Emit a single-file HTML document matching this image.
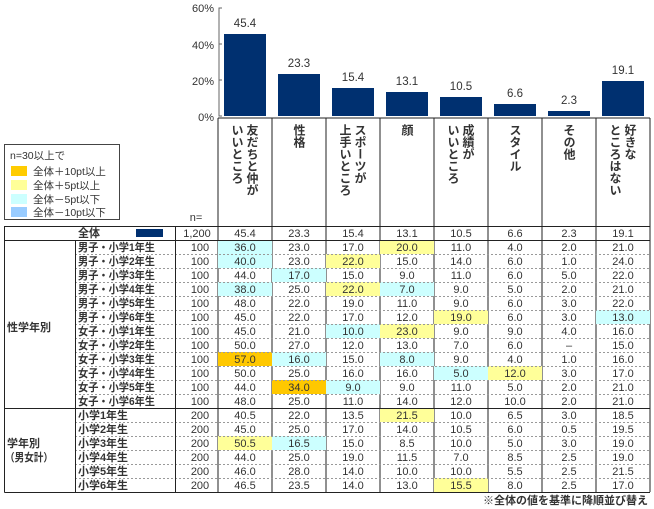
<!DOCTYPE html>
<html><head><meta charset="utf-8"><style>
html,body{margin:0;padding:0;background:#fff;}
svg{display:block;font-family:"Liberation Sans","Noto Sans CJK JP",sans-serif;}
.n{font-size:11px;fill:#333;text-anchor:middle;}
.l{font-size:11.5px;fill:#333;font-weight:bold;}
.v{font-size:12px;fill:#333;font-weight:bold;writing-mode:vertical-rl;}
.t{font-size:11px;fill:#333;text-anchor:end;}
</style></head><body>
<svg width="654" height="509" viewBox="0 0 654 509" xmlns="http://www.w3.org/2000/svg">
<text class="t" x="214" y="12">60%</text>
<text class="t" x="214" y="49">40%</text>
<text class="t" x="214" y="85">20%</text>
<text class="t" x="214" y="121">0%</text>
<path d="M222 8 H219 V116 H222 M219 44 H222 M219 80 H222" stroke="#666" fill="none"/>
<g fill="#003070">
<rect x="224" y="34" width="42" height="82"/>
<rect x="278" y="74" width="42" height="42"/>
<rect x="332" y="88" width="42" height="28"/>
<rect x="386" y="92" width="42" height="24"/>
<rect x="440" y="97" width="42" height="19"/>
<rect x="494" y="104" width="42" height="12"/>
<rect x="548" y="111" width="42" height="5"/>
<rect x="602" y="81" width="42" height="35"/>
</g>
<g class="n" style="font-size:11.5px">
<text x="245" y="27">45.4</text><text x="299" y="67">23.3</text><text x="353" y="81">15.4</text>
<text x="407" y="85">13.1</text><text x="461" y="90">10.5</text><text x="515" y="97">6.6</text>
<text x="569" y="104">2.3</text><text x="623" y="74">19.1</text>
</g>
<path d="M218 118 H650 M218 118 V492 M272 118 V492 M326 118 V492 M380 118 V492 M434 118 V492 M488 118 V492 M542 118 V492 M596 118 V492 M650 118 V492" stroke="#222" fill="none"/>
<text class="v" x="252" y="124">友だちと仲が</text><text class="v" x="237" y="124">いいところ</text>
<text class="v" x="299" y="124">性格</text>
<text class="v" x="360" y="124">スポーツが</text><text class="v" x="345" y="124">上手いところ</text>
<text class="v" x="407" y="124">顔</text>
<text class="v" x="468" y="124">成績が</text><text class="v" x="453" y="124">いいところ</text>
<text class="v" x="515" y="124">スタイル</text>
<text class="v" x="569" y="124">その他</text>
<text class="v" x="630" y="124">好きな</text><text class="v" x="615" y="124">ところはない</text>
<text x="196" y="221" class="n">n=</text>
<rect x="4.5" y="144.5" width="115" height="75" fill="#fff" stroke="#444"/>
<text x="10" y="159" style="font-size:10.5px;fill:#333">n=30以上で</text>
<rect x="11" y="166" width="16" height="10" fill="#FFCC00"/>
<rect x="11" y="180" width="16" height="10" fill="#FFFF99"/>
<rect x="11" y="194" width="16" height="10" fill="#CCFFFF"/>
<rect x="11" y="207" width="16" height="10" fill="#99CCFF"/>
<g style="font-size:10.5px;fill:#333">
<text x="33" y="175">全体＋10pt以上</text><text x="33" y="189">全体＋5pt以上</text>
<text x="33" y="203">全体－5pt以下</text><text x="33" y="216">全体－10pt以下</text>
</g>
<g>
<rect x="218" y="240" width="54" height="14" fill="#CCFFFF"/><rect x="380" y="240" width="54" height="14" fill="#FFFF99"/>
<rect x="218" y="254" width="54" height="14" fill="#CCFFFF"/><rect x="326" y="254" width="54" height="14" fill="#FFFF99"/>
<rect x="272" y="268" width="54" height="14" fill="#CCFFFF"/>
<rect x="218" y="282" width="54" height="14" fill="#CCFFFF"/><rect x="326" y="282" width="54" height="14" fill="#FFFF99"/><rect x="380" y="282" width="54" height="14" fill="#CCFFFF"/>
<rect x="434" y="310" width="54" height="14" fill="#FFFF99"/><rect x="596" y="310" width="54" height="14" fill="#CCFFFF"/>
<rect x="326" y="324" width="54" height="14" fill="#CCFFFF"/><rect x="380" y="324" width="54" height="14" fill="#FFFF99"/>
<rect x="218" y="352" width="54" height="14" fill="#FFC800"/><rect x="272" y="352" width="54" height="14" fill="#CCFFFF"/><rect x="380" y="352" width="54" height="14" fill="#CCFFFF"/>
<rect x="434" y="366" width="54" height="14" fill="#CCFFFF"/><rect x="488" y="366" width="54" height="14" fill="#FFFF99"/>
<rect x="272" y="380" width="54" height="14" fill="#FFC800"/><rect x="326" y="380" width="54" height="14" fill="#CCFFFF"/>
<rect x="380" y="408" width="54" height="14" fill="#FFFF99"/>
<rect x="218" y="436" width="54" height="14" fill="#FFFF99"/><rect x="272" y="436" width="54" height="14" fill="#CCFFFF"/>
<rect x="434" y="478" width="54" height="14" fill="#FFFF99"/>
</g>
<g stroke="#999" stroke-dasharray="2,2" fill="none">
<path d="M75 254.5H650M75 268.5H650M75 282.5H650M75 296.5H650M75 310.5H650M75 324.5H650M75 338.5H650M75 352.5H650M75 366.5H650M75 380.5H650M75 394.5H650M75 422.5H650M75 436.5H650M75 450.5H650M75 464.5H650M75 478.5H650"/>
</g>
<g stroke="#222" fill="none">
<path d="M4.5 226.5H650M4.5 240.5H650M4.5 408.5H650M4.5 492.5H650M4.5 226V492.5M75.5 240V492.5M175.5 226V492.5"/>
</g>
<rect x="136" y="229" width="27" height="8" fill="#003070"/>
<text class="l" x="78" y="237" textLength="22" lengthAdjust="spacingAndGlyphs">全体</text>
<g class="l" style="font-size:11px">
<text x="78" y="251" textLength="77" lengthAdjust="spacingAndGlyphs">男子・小学1年生</text><text x="78" y="265" textLength="77" lengthAdjust="spacingAndGlyphs">男子・小学2年生</text><text x="78" y="279" textLength="77" lengthAdjust="spacingAndGlyphs">男子・小学3年生</text>
<text x="78" y="293" textLength="77" lengthAdjust="spacingAndGlyphs">男子・小学4年生</text><text x="78" y="307" textLength="77" lengthAdjust="spacingAndGlyphs">男子・小学5年生</text><text x="78" y="321" textLength="77" lengthAdjust="spacingAndGlyphs">男子・小学6年生</text>
<text x="78" y="335" textLength="77" lengthAdjust="spacingAndGlyphs">女子・小学1年生</text><text x="78" y="349" textLength="77" lengthAdjust="spacingAndGlyphs">女子・小学2年生</text><text x="78" y="363" textLength="77" lengthAdjust="spacingAndGlyphs">女子・小学3年生</text>
<text x="78" y="377" textLength="77" lengthAdjust="spacingAndGlyphs">女子・小学4年生</text><text x="78" y="391" textLength="77" lengthAdjust="spacingAndGlyphs">女子・小学5年生</text><text x="78" y="405" textLength="77" lengthAdjust="spacingAndGlyphs">女子・小学6年生</text>
<text x="78" y="419" textLength="50" lengthAdjust="spacingAndGlyphs">小学1年生</text><text x="78" y="433" textLength="50" lengthAdjust="spacingAndGlyphs">小学2年生</text><text x="78" y="447" textLength="50" lengthAdjust="spacingAndGlyphs">小学3年生</text>
<text x="78" y="461" textLength="50" lengthAdjust="spacingAndGlyphs">小学4年生</text><text x="78" y="475" textLength="50" lengthAdjust="spacingAndGlyphs">小学5年生</text><text x="78" y="489" textLength="50" lengthAdjust="spacingAndGlyphs">小学6年生</text>
<text x="7" y="331" textLength="44" lengthAdjust="spacingAndGlyphs">性学年別</text>
<text x="7" y="447" textLength="33" lengthAdjust="spacingAndGlyphs">学年別</text><text x="5" y="461" textLength="48" lengthAdjust="spacingAndGlyphs">（男女計）</text>
</g>
<g class="n">
<text x="197" y="237">1,200</text><text x="245" y="237">45.4</text><text x="299" y="237">23.3</text><text x="353" y="237">15.4</text><text x="407" y="237">13.1</text><text x="461" y="237">10.5</text><text x="515" y="237">6.6</text><text x="569" y="237">2.3</text><text x="623" y="237">19.1</text>
<text x="200" y="251">100</text><text x="245" y="251">36.0</text><text x="299" y="251">23.0</text><text x="353" y="251">17.0</text><text x="407" y="251">20.0</text><text x="461" y="251">11.0</text><text x="515" y="251">4.0</text><text x="569" y="251">2.0</text><text x="623" y="251">21.0</text>
<text x="200" y="265">100</text><text x="245" y="265">40.0</text><text x="299" y="265">23.0</text><text x="353" y="265">22.0</text><text x="407" y="265">15.0</text><text x="461" y="265">14.0</text><text x="515" y="265">6.0</text><text x="569" y="265">1.0</text><text x="623" y="265">24.0</text>
<text x="200" y="279">100</text><text x="245" y="279">44.0</text><text x="299" y="279">17.0</text><text x="353" y="279">15.0</text><text x="407" y="279">9.0</text><text x="461" y="279">11.0</text><text x="515" y="279">6.0</text><text x="569" y="279">5.0</text><text x="623" y="279">22.0</text>
<text x="200" y="293">100</text><text x="245" y="293">38.0</text><text x="299" y="293">25.0</text><text x="353" y="293">22.0</text><text x="407" y="293">7.0</text><text x="461" y="293">9.0</text><text x="515" y="293">5.0</text><text x="569" y="293">2.0</text><text x="623" y="293">21.0</text>
<text x="200" y="307">100</text><text x="245" y="307">48.0</text><text x="299" y="307">22.0</text><text x="353" y="307">19.0</text><text x="407" y="307">11.0</text><text x="461" y="307">9.0</text><text x="515" y="307">6.0</text><text x="569" y="307">3.0</text><text x="623" y="307">22.0</text>
<text x="200" y="321">100</text><text x="245" y="321">45.0</text><text x="299" y="321">22.0</text><text x="353" y="321">17.0</text><text x="407" y="321">12.0</text><text x="461" y="321">19.0</text><text x="515" y="321">6.0</text><text x="569" y="321">3.0</text><text x="623" y="321">13.0</text>
<text x="200" y="335">100</text><text x="245" y="335">45.0</text><text x="299" y="335">21.0</text><text x="353" y="335">10.0</text><text x="407" y="335">23.0</text><text x="461" y="335">9.0</text><text x="515" y="335">9.0</text><text x="569" y="335">4.0</text><text x="623" y="335">16.0</text>
<text x="200" y="349">100</text><text x="245" y="349">50.0</text><text x="299" y="349">27.0</text><text x="353" y="349">12.0</text><text x="407" y="349">13.0</text><text x="461" y="349">7.0</text><text x="515" y="349">6.0</text><text x="569" y="349">–</text><text x="623" y="349">15.0</text>
<text x="200" y="363">100</text><text x="245" y="363">57.0</text><text x="299" y="363">16.0</text><text x="353" y="363">15.0</text><text x="407" y="363">8.0</text><text x="461" y="363">9.0</text><text x="515" y="363">4.0</text><text x="569" y="363">1.0</text><text x="623" y="363">16.0</text>
<text x="200" y="377">100</text><text x="245" y="377">50.0</text><text x="299" y="377">25.0</text><text x="353" y="377">16.0</text><text x="407" y="377">16.0</text><text x="461" y="377">5.0</text><text x="515" y="377">12.0</text><text x="569" y="377">3.0</text><text x="623" y="377">17.0</text>
<text x="200" y="391">100</text><text x="245" y="391">44.0</text><text x="299" y="391">34.0</text><text x="353" y="391">9.0</text><text x="407" y="391">9.0</text><text x="461" y="391">11.0</text><text x="515" y="391">5.0</text><text x="569" y="391">2.0</text><text x="623" y="391">21.0</text>
<text x="200" y="405">100</text><text x="245" y="405">48.0</text><text x="299" y="405">25.0</text><text x="353" y="405">11.0</text><text x="407" y="405">14.0</text><text x="461" y="405">12.0</text><text x="515" y="405">10.0</text><text x="569" y="405">2.0</text><text x="623" y="405">21.0</text>
<text x="200" y="419">200</text><text x="245" y="419">40.5</text><text x="299" y="419">22.0</text><text x="353" y="419">13.5</text><text x="407" y="419">21.5</text><text x="461" y="419">10.0</text><text x="515" y="419">6.5</text><text x="569" y="419">3.0</text><text x="623" y="419">18.5</text>
<text x="200" y="433">200</text><text x="245" y="433">45.0</text><text x="299" y="433">25.0</text><text x="353" y="433">17.0</text><text x="407" y="433">14.0</text><text x="461" y="433">10.5</text><text x="515" y="433">6.0</text><text x="569" y="433">0.5</text><text x="623" y="433">19.5</text>
<text x="200" y="447">200</text><text x="245" y="447">50.5</text><text x="299" y="447">16.5</text><text x="353" y="447">15.0</text><text x="407" y="447">8.5</text><text x="461" y="447">10.0</text><text x="515" y="447">5.0</text><text x="569" y="447">3.0</text><text x="623" y="447">19.0</text>
<text x="200" y="461">200</text><text x="245" y="461">44.0</text><text x="299" y="461">25.0</text><text x="353" y="461">19.0</text><text x="407" y="461">11.5</text><text x="461" y="461">7.0</text><text x="515" y="461">8.5</text><text x="569" y="461">2.5</text><text x="623" y="461">19.0</text>
<text x="200" y="475">200</text><text x="245" y="475">46.0</text><text x="299" y="475">28.0</text><text x="353" y="475">14.0</text><text x="407" y="475">10.0</text><text x="461" y="475">10.0</text><text x="515" y="475">5.5</text><text x="569" y="475">2.5</text><text x="623" y="475">21.5</text>
<text x="200" y="489">200</text><text x="245" y="489">46.5</text><text x="299" y="489">23.5</text><text x="353" y="489">14.0</text><text x="407" y="489">13.0</text><text x="461" y="489">15.5</text><text x="515" y="489">8.0</text><text x="569" y="489">2.5</text><text x="623" y="489">17.0</text>
</g>
<text x="648" y="504" style="font-size:11px;fill:#333;font-weight:bold;text-anchor:end">※全体の値を基準に降順並び替え</text>
</svg>
</body></html>
